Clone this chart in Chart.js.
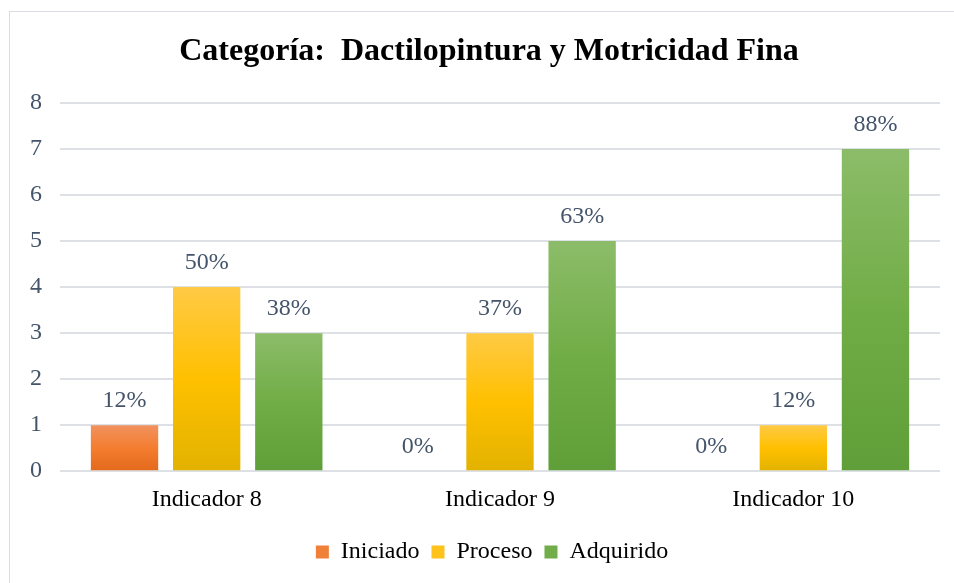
<!DOCTYPE html>
<html>
<head>
<meta charset="utf-8">
<script src="https://cdn.jsdelivr.net/npm/chart.js@4"></script>
<style>
  html, body { margin: 0; padding: 0; background: #fff; }
  #wrap { position: relative; width: 954px; height: 583px; overflow: hidden; }
  #frame { position: absolute; left: 9px; top: 11px; width: 1000px; height: 700px;
           border-left: 1.5px solid #d9dde3; border-top: 1.5px solid #d9dde3; }
  canvas { position: absolute; left: 0; top: 0; }
</style>
</head>
<body>
<div id="wrap">
  <div id="frame"></div>
  <canvas id="chart" width="954" height="583"></canvas>
</div>
<script>
const categories = ["Indicador 8", "Indicador 9", "Indicador 10"];
const iniciado = [1, 0, 0];
const proceso = [4, 3, 1];
const adquirido = [3, 5, 7];
const iniciadoPct = ["12%", "0%", "0%"];
const procesoPct = ["50%", "37%", "12%"];
const adquiridoPct = ["38%", "63%", "88%"];
const yTicks = [0, 1, 2, 3, 4, 5, 6, 7, 8];

const serif = "'Liberation Serif', 'Times New Roman', serif";
const labelColor = "#44546a";

// top / middle / bottom of the per-bar gradient
function barGradient(top, mid, bottom) {
  return (ctx) => {
    const chart = ctx.chart;
    const y = chart.scales.y;
    if (!chart.chartArea || !y || ctx.type !== "data") return mid;
    const yTop = y.getPixelForValue(ctx.raw);
    const yBase = y.getPixelForValue(0);
    if (!(yBase - yTop > 0)) return mid;
    const g = chart.ctx.createLinearGradient(0, yTop, 0, yBase);
    g.addColorStop(0, top);
    g.addColorStop(0.5, mid);
    g.addColorStop(1, bottom);
    return g;
  };
}

const legendColors = ["#f07f38", "#ffc21a", "#71ad48"];

const pctLabels = {
  id: "pctLabels",
  afterDatasetsDraw(chart) {
    const c = chart.ctx;
    c.save();
    c.font = "24px " + serif;
    c.fillStyle = labelColor;
    c.textAlign = "center";
    c.textBaseline = "middle";
    chart.data.datasets.forEach((ds, i) => {
      chart.getDatasetMeta(i).data.forEach((bar, j) => {
        c.fillText(ds.pct[j], bar.x, bar.y - 24);
      });
    });
    c.restore();
  }
};

const titlePlugin = {
  id: "titlePlugin",
  afterDraw(chart) {
    const c = chart.ctx;
    c.save();
    c.font = "bold 32px " + serif;
    c.fillStyle = "#000";
    c.textAlign = "center";
    c.textBaseline = "middle";
    c.fillText("Categoría:  Dactilopintura y Motricidad Fina", 489, 52);
    c.restore();
  }
};

// the legend sits a bit right of the plot centre in the original
const legendShift = {
  id: "legendShift",
  afterLayout(chart) {
    if (chart.legend) {
      chart.legend.left += 16;
      chart.legend.right += 16;
    }
  }
};

new Chart(document.getElementById("chart"), {
  type: "bar",
  data: {
    labels: categories,
    datasets: [
      { label: "Iniciado", data: iniciado, pct: iniciadoPct,
        backgroundColor: barGradient("#f1925f", "#f47d2f", "#e3691b") },
      { label: "Proceso", data: proceso, pct: procesoPct,
        backgroundColor: barGradient("#ffca45", "#ffc000", "#e2b200") },
      { label: "Adquirido", data: adquirido, pct: adquiridoPct,
        backgroundColor: barGradient("#8cbc69", "#71ad47", "#5f9e38") }
    ]
  },
  options: {
    responsive: false,
    animation: false,
    events: [],
    categoryPercentage: 0.84,
    barPercentage: 0.82,
    layout: { padding: { top: 103, left: 12, right: 14, bottom: 9 } },
    scales: {
      x: {
        grid: { display: false, drawTicks: false },
        border: { display: false },
        ticks: { color: "#000", font: { family: serif, size: 24 }, padding: 14 }
      },
      y: {
        min: 0, max: 8,
        afterBuildTicks: (s) => { s.ticks = yTicks.map((v) => ({ value: v })); },
        grid: { color: "#dde1e6", lineWidth: 2, drawTicks: false },
        border: { display: false },
        ticks: { color: labelColor, font: { family: serif, size: 24 }, padding: 18 }
      }
    },
    plugins: {
      title: { display: false },
      tooltip: { enabled: false },
      legend: {
        position: "bottom",
        labels: {
          color: "#000",
          font: { family: serif, size: 24 },
          boxWidth: 13, boxHeight: 13, padding: 12,
          generateLabels: (chart) => chart.data.datasets.map((ds, i) => ({
            text: ds.label, fillStyle: legendColors[i], strokeStyle: legendColors[i],
            lineWidth: 0, datasetIndex: i, fontColor: "#000"
          }))
        }
      }
    }
  },
  plugins: [pctLabels, titlePlugin, legendShift]
});
</script>
</body>
</html>
